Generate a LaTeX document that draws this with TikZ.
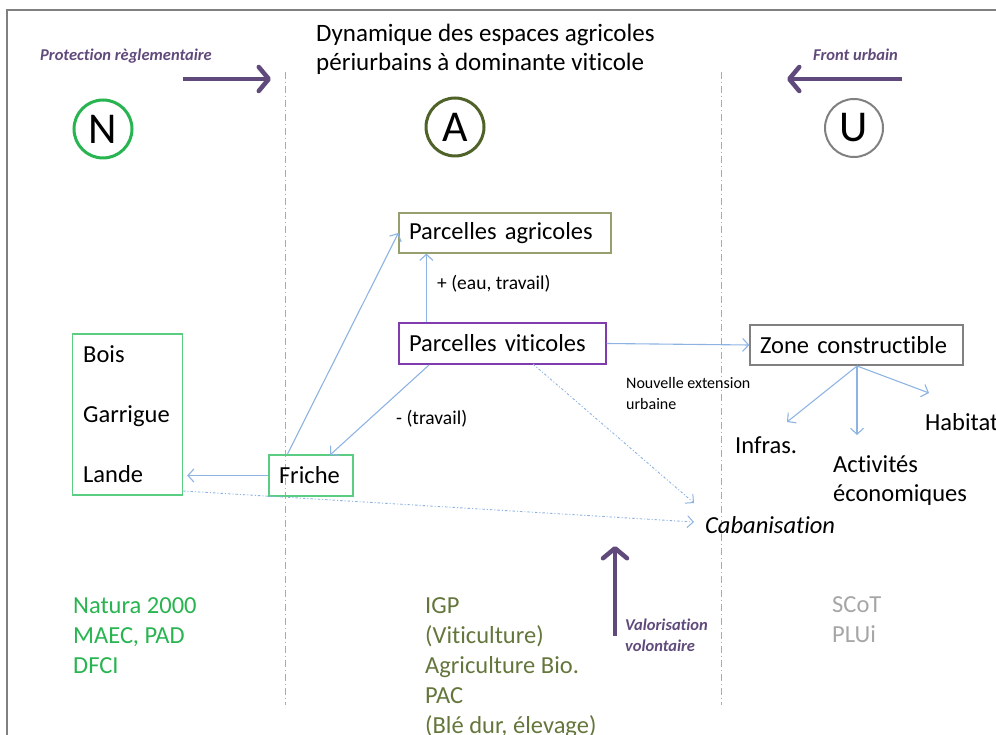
\documentclass[tikz,border=0pt]{standalone}
\usepackage{fontspec}
\setmainfont{Carlito}[Ligatures=NoCommon]
\usetikzlibrary{arrows.meta,calc}
\definecolor{connc}{RGB}{141,179,226}
\definecolor{purp}{RGB}{96,74,123}
\definecolor{vitic}{RGB}{128,60,175}
\definecolor{agric}{RGB}{150,160,110}
\definecolor{zonec}{RGB}{128,128,128}
\definecolor{natc}{RGB}{40,180,80}
\definecolor{boxg}{RGB}{90,205,130}
\definecolor{acirc}{RGB}{79,98,40}
\definecolor{agtxt}{RGB}{100,118,60}
\definecolor{urbtxt}{RGB}{166,166,166}
\definecolor{framec}{RGB}{128,128,128}
\definecolor{sepc}{RGB}{170,170,170}
\begin{document}
\begin{tikzpicture}[x=1pt,y=-1pt,
  txt/.style={anchor=base west,inner sep=0pt,font=\fontsize{24.5}{29}\selectfont},
  smalltxt/.style={anchor=base west,inner sep=0pt,font=\fontsize{19.5}{23}\selectfont},
  tinytxt/.style={anchor=base west,inner sep=0pt,font=\fontsize{16}{20}\selectfont},
  purptxt/.style={anchor=base west,inner sep=0pt,text=purp,font=\fontsize{16.5}{20}\selectfont\bfseries\itshape},
  boxnode/.style={draw,line width=1.3pt,inner xsep=10pt,align=left,font=\fontsize{24.5}{29}\selectfont},
  letter/.style={circle,line width=3pt,minimum size=58pt,inner sep=0pt,font=\fontsize{44}{44}\selectfont},
  conn/.style={draw=connc,line width=1.1pt,-{Straight Barb[length=6pt,width=13pt,line width=1.1pt]}},
  dotconn/.style={draw=connc,line width=0.9pt,dash pattern=on 2.5pt off 2pt on 1pt off 2pt,-{Straight Barb[length=6pt,width=12pt,line width=1pt]}},
  bigarrow/.style={draw=purp,line width=4.5pt,-{Straight Barb[length=10pt,width=24pt,line width=4.5pt,round]}},
  sep/.style={draw=sepc,line width=1pt,dash pattern=on 7pt off 3pt on 1pt off 3pt}]
\useasboundingbox (0,0) rectangle (996,735);
% frame
\draw[framec,line width=2.5pt] (7,735) -- (7,10) -- (996,10);
% separators
\coordinate (s1t) at (285,72); \coordinate (s1b) at (285,705);
\coordinate (s2t) at (721,72); \coordinate (s2b) at (721,705);
\draw[sep] (s1t) -- (s1b);
\draw[sep] (s2t) -- (s2b);
% title
\node[txt,font=\fontsize{25}{29}\selectfont] (title1) at (316,42) {Dynamique des espaces agricoles};
\node[txt,font=\fontsize{25}{29}\selectfont] (title2) at (316,71) {périurbains à dominante viticole};
% top arrows
\node[purptxt] (prot) at (40,61) {Protection règlementaire};
\node[purptxt] (front) at (813,61) {Front urbain};
\coordinate (pa1) at (183,79); \coordinate (pa2) at (271,79);
\coordinate (fa1) at (902,79); \coordinate (fa2) at (787,79);
\draw[bigarrow] (pa1) -- (pa2);
\draw[bigarrow] (fa1) -- (fa2);
% circles
\node[letter,draw=natc] (N) at (103,129) {N};
\node[letter,draw=acirc] (A) at (455,127) {A};
\node[letter,draw=zonec,line width=2pt] (U) at (854,128) {U};
% boxes
\node[boxnode,draw=agric,text width=192pt,minimum height=40pt] (agri) at (505,233) {Parcelles agricoles};
\node[boxnode,draw=vitic,text width=187pt,minimum height=41pt] (viti) at (502.5,343.5) {Parcelles viticoles};
\node[boxnode,draw=zonec,text width=193pt,minimum height=40pt] (zone) at (856.5,345) {Zone constructible};
\node[draw=boxg,line width=1.3pt,minimum width=110pt,minimum height=161pt,inner sep=0pt] (bois) at (127.5,414.5) {};
\node[boxnode,draw=boxg,text width=64pt,minimum height=41pt] (friche) at (311,475.5) {Friche};
\node[txt] (tbois) at (83,362) {Bois};
\node[txt] (tgar) at (83,422) {Garrigue};
\node[txt] (tlande) at (83,482) {Lande};
% labels
\node[smalltxt] (eau) at (437,290) {+ (eau, travail)};
\node[smalltxt] (trav) at (396,424) {- (travail)};
\node[tinytxt] (nouv1) at (626,388) {Nouvelle extension};
\node[tinytxt] (nouv2) at (626,409) {urbaine};
\node[txt] (infras) at (735,453) {Infras.};
\node[txt] (habitat) at (925,430) {Habitat};
\node[txt] (activ1) at (833,472) {Activités};
\node[txt] (activ2) at (833,501) {économiques};
\node[txt,font=\fontsize{24.5}{29}\selectfont\itshape] (caban) at (705,533) {Cabanisation};
% connectors
\draw[conn] ([xshift=28pt]viti.north west) -- ([xshift=28pt]viti.north west |- agri.south);
\coordinate (fr1) at (287,455);
\draw[conn] (fr1) -- (agri.west);
\coordinate (vf1) at (429,365);
\coordinate (vf2) at (330,455);
\draw[conn] (vf1) -- (vf2);
\draw[conn] (friche.west) -- ([xshift=4pt]friche.west -| bois.east);
\draw[conn] (viti.east) -- (zone.west);
\coordinate (z0) at (857,366);
\coordinate (zi) at (787,422);
\coordinate (za) at (857,435);
\coordinate (zh) at (929,393);
\draw[conn] (z0) -- (zi);
\draw[conn] (z0) -- (za);
\draw[conn] (z0) -- (zh);
\coordinate (d1) at (533,364);
\coordinate (d1e) at (694,503);
\coordinate (d2) at (183,491);
\coordinate (d2e) at (694,522);
\draw[dotconn] (d1) -- (d1e);
\draw[dotconn] (d2) -- (d2e);
% bottom
\coordinate (va1) at (615,636); \coordinate (va2) at (615,546);
\draw[bigarrow] (va1) -- (va2);
\node[purptxt] (val1) at (625,630) {Valorisation};
\node[purptxt] (val2) at (625,651) {volontaire};
\node[txt,text=natc] (nat1) at (73,613) {Natura 2000};
\node[txt,text=natc] (nat2) at (73,643) {MAEC, PAD};
\node[txt,text=natc] (nat3) at (73,673) {DFCI};
\node[txt,text=agtxt] (igp1) at (425,613) {IGP};
\node[txt,text=agtxt] (igp2) at (425,643) {(Viticulture)};
\node[txt,text=agtxt] (igp3) at (425,673) {Agriculture Bio.};
\node[txt,text=agtxt] (igp4) at (425,703) {PAC};
\node[txt,text=agtxt] (igp5) at (425,733) {(Blé dur, élevage)};
\node[txt,text=urbtxt] (scot1) at (832,612) {SCoT};
\node[txt,text=urbtxt] (scot2) at (832,642) {PLUi};
\end{tikzpicture}
\end{document}
